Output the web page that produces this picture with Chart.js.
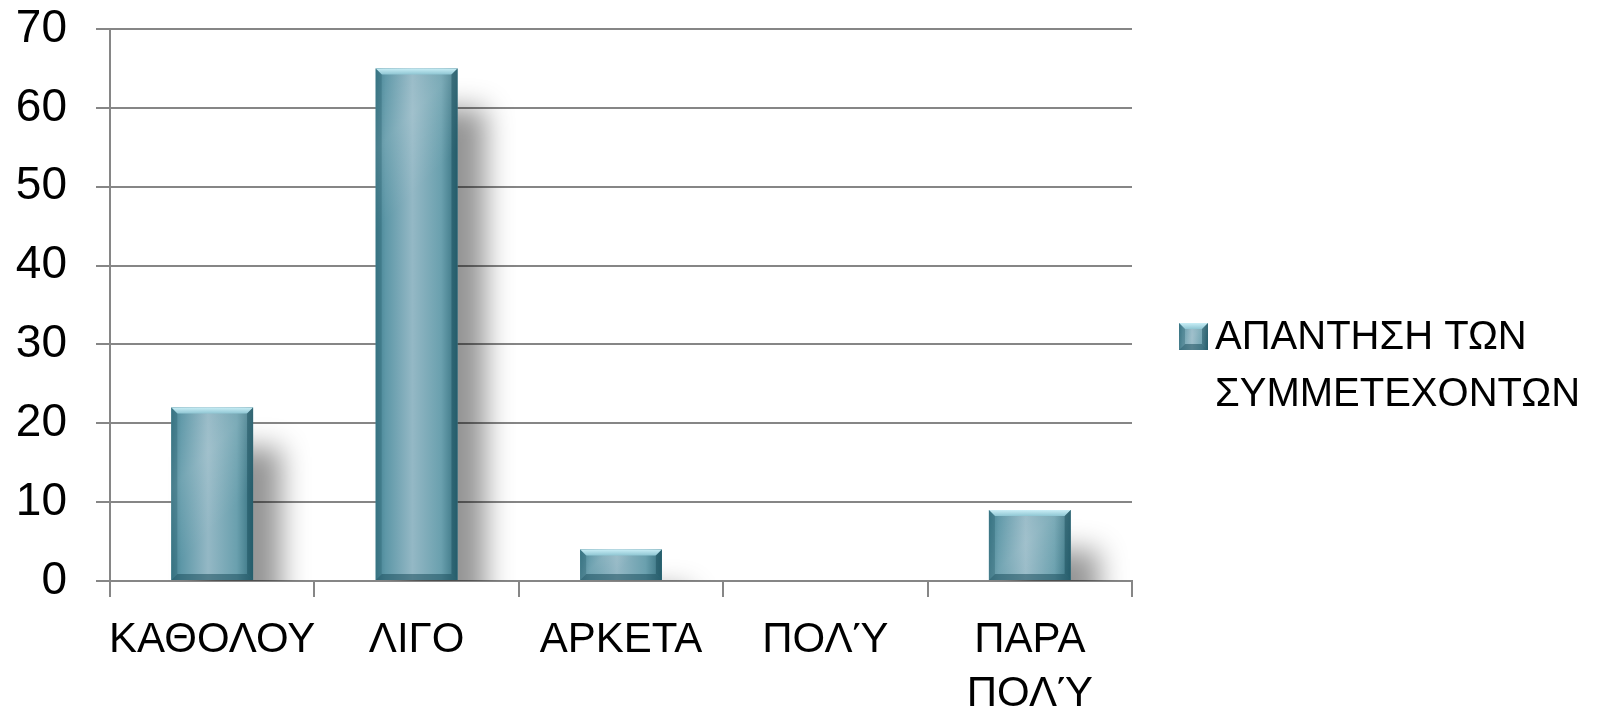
<!DOCTYPE html>
<html>
<head>
<meta charset="utf-8">
<script src="https://cdn.jsdelivr.net/npm/chart.js@4/dist/chart.umd.min.js"></script>
<style>
  html, body { margin: 0; padding: 0; background: #fff; }
  #wrap { width: 1604px; height: 713px; }
</style>
</head>
<body>
<div id="wrap"><canvas id="grafico"></canvas></div>
<script>
// Datos del gráfico
const categorias = ['ΚΑΘΟΛΟΥ', 'ΛΙΓΟ', 'ΑΡΚΕΤΑ', 'ΠΟΛΎ', ['ΠΑΡΑ', 'ΠΟΛΎ']];
const respuestas = [22, 65, 4, 0, 9];
const nombreSerie = ['ΑΠΑΝΤΗΣΗ ΤΩΝ', 'ΣΥΜΜΕΤΕΧΟΝΤΩΝ'];
const ejeY = { min: 0, max: 70, paso: 10 };

const gris = '#868686';

// Relleno con degradado y bisel para cada barra
function pintarBarra(ctx, left, top, w, h) {
    if (h <= 0) return;
    const g = ctx.createLinearGradient(left, 0, left + w, 0);
    g.addColorStop(0, '#3f7e8e');
    g.addColorStop(0.12, '#5d97a7');
    g.addColorStop(0.45, '#94b8c5');
    g.addColorStop(0.8, '#6aa0ae');
    g.addColorStop(1, '#346f7e');
    ctx.fillStyle = g;
    ctx.fillRect(left, top, w, h);
    // brillo diagonal
    const d = Math.min(h, w);
    const gd = ctx.createLinearGradient(left, top, left + d, top + d);
    gd.addColorStop(0, 'rgba(255,255,255,0)');
    gd.addColorStop(0.5, 'rgba(255,255,255,0.12)');
    gd.addColorStop(1, 'rgba(255,255,255,0)');
    ctx.fillStyle = gd;
    ctx.fillRect(left, top, w, h);
    const b = Math.min(6, h / 3);
    // bisel superior
    const gt = ctx.createLinearGradient(0, top, 0, top + b);
    gt.addColorStop(0, '#c9eef6');
    gt.addColorStop(1, '#8fc6d3');
    ctx.fillStyle = gt;
    ctx.beginPath();
    ctx.moveTo(left, top); ctx.lineTo(left + w, top);
    ctx.lineTo(left + w - b, top + b); ctx.lineTo(left + b, top + b);
    ctx.closePath(); ctx.fill();
    // bisel inferior
    ctx.fillStyle = 'rgba(30,80,95,0.55)';
    ctx.beginPath();
    ctx.moveTo(left, top + h); ctx.lineTo(left + w, top + h);
    ctx.lineTo(left + w - b, top + h - b); ctx.lineTo(left + b, top + h - b);
    ctx.closePath(); ctx.fill();
    // biseles laterales
    ctx.fillStyle = 'rgba(40,95,110,0.35)';
    ctx.beginPath();
    ctx.moveTo(left, top); ctx.lineTo(left + b, top + b);
    ctx.lineTo(left + b, top + h - b); ctx.lineTo(left, top + h);
    ctx.closePath(); ctx.fill();
    ctx.fillStyle = 'rgba(20,70,85,0.45)';
    ctx.beginPath();
    ctx.moveTo(left + w, top); ctx.lineTo(left + w - b, top + b);
    ctx.lineTo(left + w - b, top + h - b); ctx.lineTo(left + w, top + h);
    ctx.closePath(); ctx.fill();
}

const estiloBarras = {
    id: 'estiloBarras',
    beforeDatasetsDraw(chart) {
        const ctx = chart.ctx;
        ctx.save();
        ctx.shadowColor = 'rgba(0,0,0,0.42)';
        ctx.shadowBlur = 28;
        ctx.shadowOffsetX = 28;
        ctx.shadowOffsetY = 40;
    },
    afterDatasetsDraw(chart) {
        const ctx = chart.ctx;
        ctx.restore();
        ctx.save();
        chart.getDatasetMeta(0).data.forEach(bar => {
            const p = bar.getProps(['x', 'y', 'base', 'width'], true);
            pintarBarra(ctx, p.x - p.width / 2, p.y, p.width, p.base - p.y);
        });
        ctx.restore();
    }
};

// Leyenda a la derecha
const leyenda = {
    id: 'leyenda',
    afterDraw(chart) {
        const ctx = chart.ctx;
        const x = chart.chartArea.right + 47;
        const y = 323;
        ctx.save();
        pintarBarra(ctx, x, y, 29, 27);
        ctx.fillStyle = '#000';
        ctx.font = '40px "Liberation Sans", Arial, sans-serif';
        ctx.textBaseline = 'alphabetic';
        nombreSerie.forEach((t, i) => ctx.fillText(t, x + 36, 349 + i * 57));
        ctx.restore();
    }
};

const ctxGrafico = document.getElementById('grafico').getContext('2d');
window.grafico = new Chart(ctxGrafico, {
    type: 'bar',
    data: {
        labels: categorias,
        datasets: [{
            label: nombreSerie.join(' '),
            data: respuestas,
            backgroundColor: '#5b95a5',
            borderWidth: 0,
            categoryPercentage: 1,
            barPercentage: 0.4
        }]
    },
    options: {
        responsive: true,
        maintainAspectRatio: false,
        animation: false,
        layout: { padding: { top: 29, right: 472, left: 0, bottom: 0 } },
        plugins: { legend: { display: false }, tooltip: { enabled: false } },
        scales: {
            x: {
                afterFit: s => { s.height = 132; s.paddingLeft = 0; s.paddingRight = 0; },
                grid: { drawOnChartArea: false, color: gris, lineWidth: 2, tickLength: 16 },
                border: { color: gris, width: 2 },
                ticks: {
                    color: '#000',
                    padding: 16,
                    autoSkip: false,
                    maxRotation: 0,
                    font: { family: '"Liberation Sans", Arial, sans-serif', size: 42, lineHeight: 1.3 }
                }
            },
            y: {
                min: ejeY.min,
                max: ejeY.max,
                afterFit: s => { s.width = 110; s.paddingTop = 0; s.paddingBottom = 0; },
                grid: { color: gris, lineWidth: 2, tickLength: 14 },
                border: { color: gris, width: 2 },
                ticks: {
                    stepSize: ejeY.paso,
                    color: '#000',
                    padding: 29,
                    font: { family: '"Liberation Sans", Arial, sans-serif', size: 46 }
                }
            }
        }
    },
    plugins: [estiloBarras, leyenda]
});
</script>
</body>
</html>
